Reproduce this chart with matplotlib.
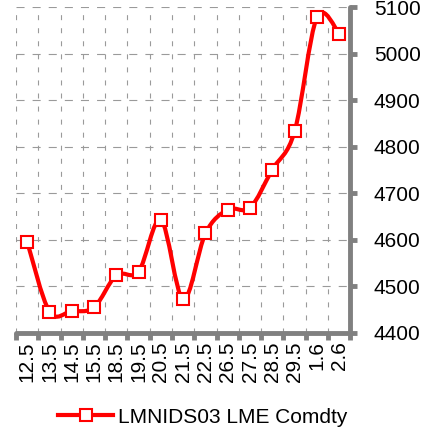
import matplotlib
matplotlib.use("Agg")
import matplotlib.pyplot as plt
from matplotlib.path    import Path
from matplotlib.patches import PathPatch
from matplotlib.lines   import Line2D
import numpy as np

plt.rcParams["font.family"]       = ["Liberation Sans", "DejaVu Sans"]
plt.rcParams["lines.scale_dashes"] = False

# dates and LME nickel prices
dates  = ["12.5", "13.5", "14.5", "15.5", "18.5", "19.5", "20.5", "21.5",
          "22.5", "26.5", "27.5", "28.5", "29.5", "1.6", "2.6"]
prices = [4596, 4446, 4447, 4455, 4524, 4532, 4643, 4472,
          4614, 4665, 4669, 4751, 4833, 5078, 5043]
yTicks = [4400, 4500, 4600, 4700, 4800, 4900, 5000, 5100]
seriesName = "LMNIDS03 LME Comdty"

red  = "#ff0000"
gray = "#808080"

fig = plt.figure(figsize=(4.27, 4.30), dpi=100)
ax  = fig.add_axes([0.0375, 0.2256, 0.783, 0.7581])

x = np.arange(len(dates))
y = np.array(prices, dtype=float)

# smoothed line (bezier through the points, like excel's smooth line)
verts = [(x[0], y[0])]
codes = [Path.MOVETO]
for i in range(len(x) - 1):
    p0 = np.array([x[max(i - 1, 0)], y[max(i - 1, 0)]])
    p1 = np.array([x[i], y[i]])
    p2 = np.array([x[i + 1], y[i + 1]])
    p3 = np.array([x[min(i + 2, len(x) - 1)], y[min(i + 2, len(x) - 1)]])
    c1 = p1 + (p2 - p0) / 6.0
    c2 = p2 - (p3 - p1) / 6.0
    verts += [tuple(c1), tuple(c2), tuple(p2)]
    codes += [Path.CURVE4] * 3
ax.add_patch(PathPatch(Path(verts, codes), facecolor="none", edgecolor=red,
                       linewidth=3, capstyle="round", joinstyle="round", zorder=3))
ax.plot(x, y, linestyle="none", marker="s", markersize=8, markerfacecolor="white",
        markeredgecolor=red, markeredgewidth=1.5, zorder=4)

ax.set_xlim(-0.5, len(dates) - 0.5)
ax.set_ylim(4400, 5100)

# grid
for b in np.arange(-0.5, len(dates), 1.0):
    ax.axvline(b, color="#9a9a9a", linewidth=0.8, dashes=(3.6, 5.8), zorder=1)
for t in yTicks:
    ax.axhline(t, color="#9a9a9a", linewidth=0.8, dashes=(5.8, 5.8), zorder=1)

# axes
for s in ["left", "top"]:
    ax.spines[s].set_visible(False)
for s in ["bottom", "right"]:
    ax.spines[s].set_color(gray)
    ax.spines[s].set_linewidth(3.5)
    ax.spines[s].set_capstyle("round")

ax.set_xticks(np.arange(-0.5, len(dates), 1.0))
ax.set_xticklabels([])
ax.set_xticks(x, minor=True)
ax.set_xticklabels(dates, minor=True, rotation=90, fontsize=15)
ax.tick_params(axis="x", which="major", length=5, width=3.5, color=gray, direction="out")
ax.tick_params(axis="x", which="minor", length=0, pad=6)

ax.yaxis.tick_right()
ax.set_yticks(yTicks)
ax.set_yticklabels([str(t) for t in yTicks], fontsize=15)
ax.tick_params(axis="y", length=5, width=3.5, color=gray, direction="out", pad=12)

handle = Line2D([], [], color=red, linewidth=3, marker="s", markersize=8,
                markerfacecolor="white", markeredgecolor=red, markeredgewidth=1.5)
fig.legend([handle], [seriesName], loc="center", bbox_to_anchor=(0.475, 0.03),
           frameon=False, fontsize=15, handlelength=2.6, handletextpad=0.25)

fig.savefig("out.png", dpi=100)
